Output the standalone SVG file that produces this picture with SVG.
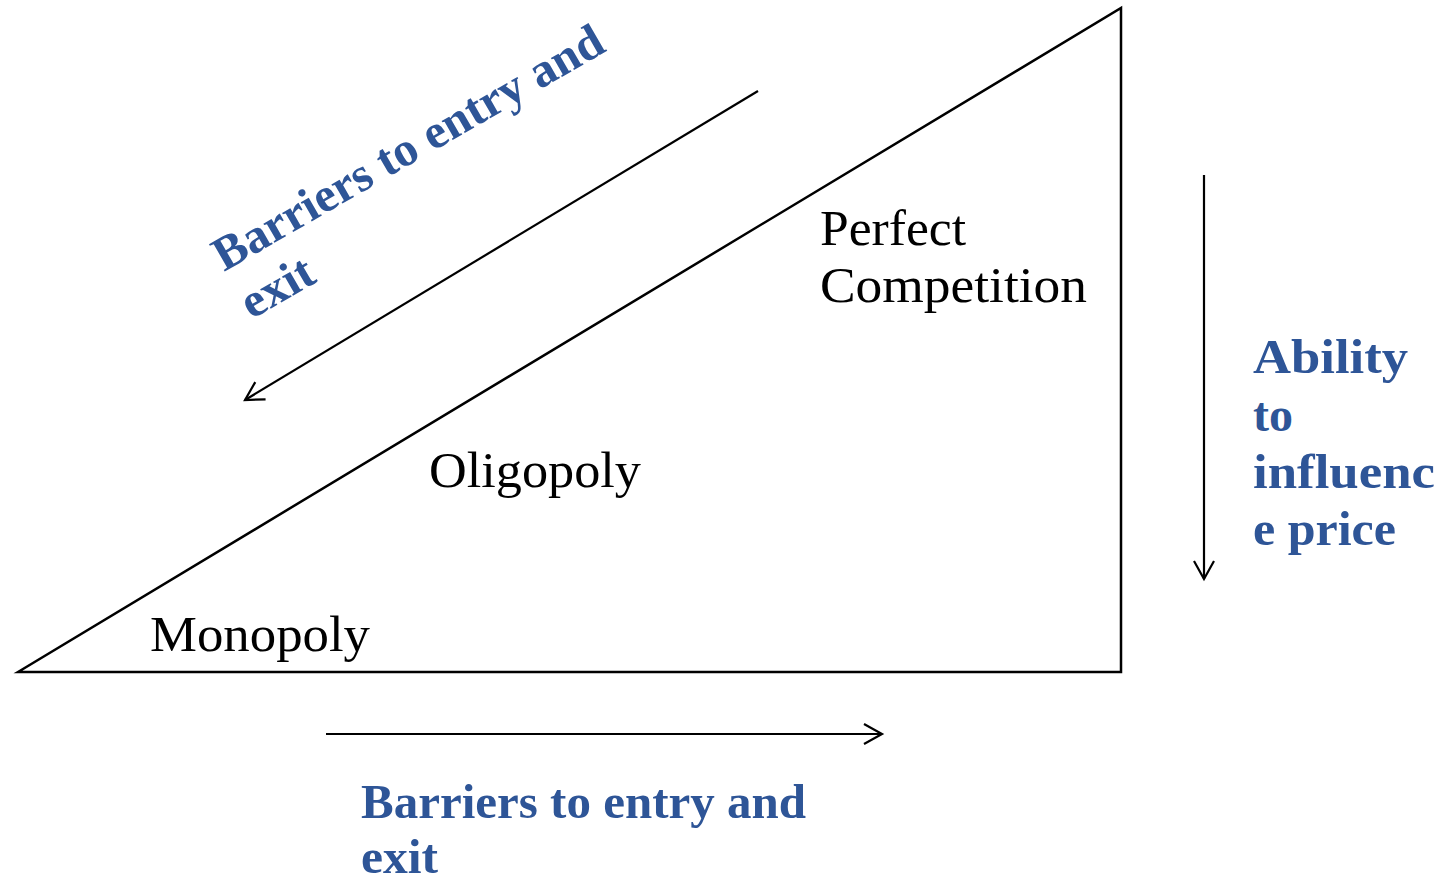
<svg xmlns="http://www.w3.org/2000/svg" width="1443" height="882" viewBox="0 0 1443 882">
<style>
.lbl{font-family:"Liberation Serif","Times New Roman",serif;font-size:50px;fill:#000}
.blue{font-family:"Liberation Serif","Times New Roman",serif;font-size:48px;font-weight:bold;fill:#2E5597}
.ln{stroke:#000;stroke-width:2.2;fill:none}
</style>
<defs>
<marker id="chev" markerUnits="userSpaceOnUse" markerWidth="24" markerHeight="24" viewBox="0 0 24 24" refX="20" refY="12" orient="auto">
<path d="M2,2 L20,12 L2,22" fill="none" stroke="#000" stroke-width="2.2"/>
</marker>
</defs>
<g id="triangle">
<polygon points="18,672 1121,8 1121,672" fill="#fff" stroke="#000" stroke-width="2.5"/>
</g>
<g id="connectors">
<line class="ln" x1="758" y1="91" x2="245" y2="400" marker-end="url(#chev)"/>
<line class="ln" x1="1204" y1="175" x2="1204" y2="579" marker-end="url(#chev)"/>
<line class="ln" x1="326" y1="734" x2="882" y2="734" marker-end="url(#chev)"/>
</g>
<g id="perfect-competition">
<text class="lbl" x="820" y="245" textLength="146" lengthAdjust="spacingAndGlyphs">Perfect</text>
<text class="lbl" x="820" y="302" textLength="267" lengthAdjust="spacingAndGlyphs">Competition</text>
</g>
<g id="oligopoly">
<text class="lbl" x="429" y="487" textLength="212" lengthAdjust="spacingAndGlyphs">Oligopoly</text>
</g>
<g id="monopoly">
<text class="lbl" x="150" y="651" textLength="220" lengthAdjust="spacingAndGlyphs">Monopoly</text>
</g>
<g id="label-diagonal" transform="translate(224,272) rotate(-30)">
<text class="blue" x="0" y="0" textLength="443" lengthAdjust="spacingAndGlyphs">Barriers to entry and</text>
<text class="blue" x="0" y="55" textLength="77" lengthAdjust="spacingAndGlyphs">exit</text>
</g>
<g id="label-ability">
<text class="blue" x="1253" y="373" textLength="155" lengthAdjust="spacingAndGlyphs">Ability</text>
<text class="blue" x="1253" y="431" textLength="40" lengthAdjust="spacingAndGlyphs">to</text>
<text class="blue" x="1253" y="488" textLength="182" lengthAdjust="spacingAndGlyphs">influenc</text>
<text class="blue" x="1253" y="545" textLength="143" lengthAdjust="spacingAndGlyphs">e price</text>
</g>
<g id="label-bottom">
<text class="blue" x="361" y="818" textLength="445" lengthAdjust="spacingAndGlyphs">Barriers to entry and</text>
<text class="blue" x="361" y="873" textLength="77" lengthAdjust="spacingAndGlyphs">exit</text>
</g>
</svg>
